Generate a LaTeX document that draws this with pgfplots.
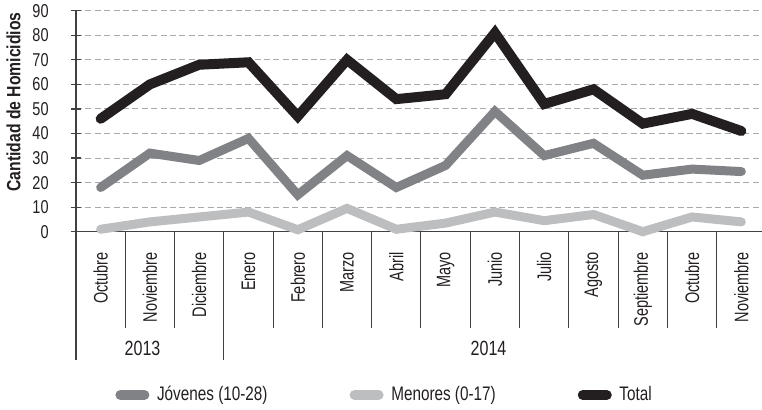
\documentclass[border=0pt]{standalone}
\usepackage{pgfplots}
\pgfplotsset{compat=1.18}
\usepackage{pgfplotstable}
\usepackage{fontspec}
\setmainfont{Liberation Sans}[FakeStretch=0.78]
\newfontfamily\labfont{Liberation Sans}[FakeStretch=0.82]
\newfontfamily\monfont{Liberation Sans}[FakeStretch=0.74]
\definecolor{cTot}{HTML}{231F20}
\definecolor{cJov}{HTML}{808285}
\definecolor{cMen}{HTML}{BCBEC0}
\definecolor{cTxt}{HTML}{231F20}
\definecolor{cGrid}{HTML}{A7A9AC}
\definecolor{cAx}{HTML}{414042}

\pgfplotstableread{
x jov men tot
0 18 1 46
1 32 4 60
2 29 6 68
3 38 8 69
4 15 0.8 47
5 31 9.5 70
6 18 1 54
7 27 3.5 56
8 49 8 81
9 31 4.5 52
10 36 7 58
11 23 0 44
12 25.5 6 48
13 24.5 4 41
}\datatable

\begin{document}
\fontsize{9}{11}\selectfont
\begin{tikzpicture}
\useasboundingbox (-38pt,-88.65pt) rectangle (343pt,115.85pt);
\begin{axis}[
  at={(0,0)}, anchor=south west,
  scale only axis, width=345pt, height=110.5pt,
  xmin=-0.5, xmax=13.5, ymin=0, ymax=90,
  ytick={0,10,...,90},
  xtick={0,...,13},
  xticklabels={Octubre,Noviembre,Diciembre,Enero,Febrero,Marzo,Abril,Mayo,Junio,Julio,Agosto,Septiembre,Octubre,Noviembre},
  xticklabel style={rotate=90, anchor=east, inner sep=0pt, font=\monfont\fontsize{9.8}{11}\selectfont},
  xticklabel shift=7.5pt,
  xtick style={draw=none},
  axis lines=left,
  axis line style={-, cAx, line width=0.6pt},
  tick align=center, major tick length=5pt,
  ytick style={cAx, line width=0.6pt},
  ymajorgrids,
  grid style={cGrid, dash pattern=on 3pt off 1.7pt, line width=0.5pt},
  yticklabel style={inner sep=0pt, anchor=east, font=\fontsize{9.3}{11}\selectfont},
  yticklabel shift=11pt,
  /pgf/number format/assume math mode=true,
  tick label style={color=cTxt},
  clip=false,
  legend columns=3,
  legend image code/.code={\draw[#1, line width=5pt, line cap=round] (2.5pt,0pt) -- (14.5pt,0pt);},
  legend style={draw=none, fill=none, text=cTxt, font=\fontsize{9.8}{11}\selectfont,
    at={(0,0)}, anchor=west, xshift=19.5pt, yshift=-81.65pt,
    inner sep=0pt, nodes={inner sep=0pt},
    /tikz/every odd column/.append style={column sep=3.85pt},
    /tikz/every even column/.append style={column sep=41pt}},
]
\addplot[cJov, line width=4.5pt, line cap=round, line join=miter, no markers] table[x=x,y=jov]{\datatable};
\addlegendentry{Jóvenes (10-28)}
\addplot[cMen, line width=4.5pt, line cap=round, line join=miter, no markers] table[x=x,y=men]{\datatable};
\addlegendentry{Menores (0-17)}
\addplot[cTot, line width=5pt, line cap=round, line join=miter, no markers] table[x=x,y=tot]{\datatable};
\addlegendentry{Total}
\pgfplotsinvokeforeach{0.5,1.5,3.5,4.5,5.5,6.5,7.5,8.5,9.5,10.5,11.5,12.5}{
  \draw[cAx, line width=0.5pt] (axis cs:#1,0) -- ([yshift=-48pt]axis cs:#1,0);
}
\pgfplotsinvokeforeach{-0.5,2.5}{
  \draw[cAx, line width=0.6pt] (axis cs:#1,0) -- ([yshift=-64.2pt]axis cs:#1,0);
}
\node[text=cTxt, yshift=-58.15pt, font=\fontsize{10.3}{12}\selectfont] at (axis cs:0.85,0) {2013};
\node[text=cTxt, yshift=-58.15pt, font=\fontsize{10.3}{12}\selectfont] at (axis cs:7.87,0) {2014};
\end{axis}
\node[rotate=90, text=cTxt, font=\labfont\bfseries\fontsize{9.6}{11}\selectfont] at (-31.25pt,64.85pt) {Cantidad de Homicidios};
\end{tikzpicture}
\end{document}
